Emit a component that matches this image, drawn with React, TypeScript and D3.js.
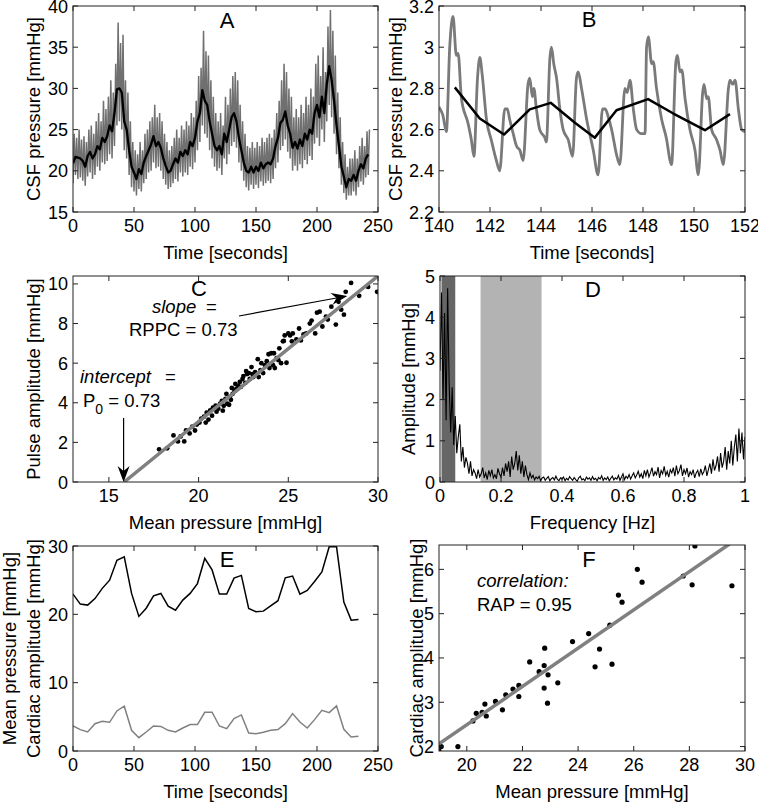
import React from 'react';
import * as d3 from 'd3';

const FONT = '"Liberation Sans", Arial, Helvetica, sans-serif';

// ---------- Panel A: CSF pressure recording ----------
const A_T = [0,2,4,6,8,10,12,14,16,18,20,22,24,26,28,30,32,34,36,38,40,42,44,46,48,50,52,54,56,58,60,62,64,66,68,70,72,74,76,78,80,82,84,86,88,90,92,94,96,98,100,102,104,106,108,110,112,114,116,118,120,122,124,126,128,130,132,134,136,138,140,142,144,146,148,150,152,154,156,158,160,162,164,166,168,170,172,174,176,178,180,182,184,186,188,190,192,194,196,198,200,202,204,206,208,210,212,214,216,218,220,222,224,226,228,230,232,234,236,238,240,242];
const A_MEAN = [20.9,21.7,21.6,21.5,21.2,20.5,21.8,22.3,21.5,22.0,23.0,22.6,24.0,23.5,24.2,25.5,24.8,27.0,29.9,30.0,29.5,26.0,25.0,22.5,20.5,19.8,19.0,20.2,19.6,21.0,21.8,22.5,23.2,24.2,23.0,23.5,22.8,21.5,20.6,19.8,20.0,20.8,21.5,21.0,22.3,21.8,22.5,22.0,23.5,23.0,24.0,26.0,27.0,29.8,28.5,28.0,26.0,24.5,23.0,22.5,23.0,22.0,24.5,23.5,25.0,26.5,27.0,26.0,24.0,22.5,21.0,20.0,19.8,20.5,19.8,20.5,20.0,21.0,20.3,20.8,21.0,20.8,21.5,23.0,24.0,25.8,26.2,27.2,25.5,24.5,22.8,23.5,22.7,23.8,23.0,24.5,23.8,25.0,24.5,27.0,28.0,26.5,29.0,27.0,30.5,32.7,31.0,28.5,25.5,23.0,20.5,19.3,18.0,19.0,18.8,19.5,18.8,20.0,20.8,20.3,21.5,22.0];
const A_HI = [24.5,24.0,25.0,23.8,24.2,23.5,25.0,25.5,24.5,26.0,27.0,26.0,28.5,27.5,29.0,31.0,29.5,33.0,38.0,35.5,36.5,31.0,29.5,26.0,23.5,22.5,22.0,23.5,22.5,24.5,25.0,26.0,26.5,28.0,26.5,27.0,26.0,24.5,23.5,22.5,23.0,24.0,25.0,24.0,25.5,25.0,26.0,25.5,27.0,26.5,28.5,31.5,32.5,37.0,34.5,34.0,31.0,29.0,27.0,26.0,27.0,25.5,29.0,28.0,30.0,31.5,32.0,31.0,28.0,26.0,24.5,23.0,22.8,23.5,22.8,23.5,23.0,24.0,23.5,24.0,24.5,24.0,25.0,27.0,28.5,31.0,33.0,32.0,30.0,29.0,26.5,27.5,26.5,28.0,27.0,29.0,28.0,30.0,29.0,33.0,34.0,31.5,35.0,32.0,37.5,39.5,37.0,34.0,29.5,26.5,23.5,22.0,20.5,21.5,21.5,22.5,21.5,23.0,24.0,23.0,24.8,25.0];
const A_LO = [18.5,19.5,19.0,19.2,18.8,18.2,19.3,19.8,19.0,19.5,20.5,20.0,21.0,20.8,21.2,22.0,21.5,23.0,25.5,26.0,25.0,22.5,21.5,19.5,18.0,17.5,17.0,17.8,17.5,18.5,19.0,19.8,20.0,21.0,20.3,20.5,20.0,19.0,18.3,17.8,18.0,18.5,19.0,18.7,19.8,19.3,19.8,19.5,20.5,20.2,21.0,22.5,23.5,25.5,24.5,24.0,22.5,21.5,20.5,20.0,20.3,19.5,21.5,20.8,22.0,23.0,23.5,22.8,21.0,20.0,18.8,18.0,17.6,18.3,17.8,18.3,17.9,18.7,18.2,18.5,18.8,18.5,19.0,20.3,21.0,22.5,23.0,23.8,22.3,21.5,20.0,20.6,20.0,20.8,20.3,21.3,20.8,21.8,21.3,23.3,24.0,23.0,25.0,23.5,26.0,28.0,26.5,24.5,22.0,20.3,18.3,17.3,16.5,17.0,17.0,17.5,17.0,18.0,18.7,18.3,19.2,19.5];
const A_XTICKS = [0, 50, 100, 150, 200, 250];
const A_YTICKS = [15, 20, 25, 30, 35, 40];

// ---------- Panel B: zoomed pulse waveform ----------
const B_T = [140.00,140.15,140.29,140.42,140.55,140.68,140.75,140.88,141.14,141.27,141.37,141.51,141.60,141.70,141.86,142.05,142.25,142.38,142.58,142.68,142.77,142.91,143.04,143.17,143.30,143.49,143.56,143.66,143.72,143.82,143.95,144.15,144.21,144.35,144.41,144.50,144.61,144.74,144.87,145.07,145.24,145.39,145.46,145.59,145.79,146.05,146.24,146.41,146.52,146.64,146.77,146.96,147.09,147.29,147.38,147.49,147.62,147.75,147.94,148.08,148.14,148.21,148.34,148.40,148.53,148.73,148.93,149.06,149.12,149.29,149.35,149.45,149.52,149.65,149.84,150.04,150.17,150.34,150.39,150.50,150.56,150.69,150.89,151.02,151.15,151.35,151.41,151.52,151.61,151.74,151.87,152.00];
const B_V = [2.71,2.67,2.59,3.00,3.15,2.96,2.97,2.75,2.63,2.55,2.47,2.85,2.95,2.86,2.65,2.55,2.45,2.40,2.70,2.70,2.65,2.58,2.52,2.50,2.45,2.82,2.85,2.76,2.80,2.70,2.60,2.56,2.54,2.95,3.00,2.92,2.85,2.70,2.60,2.55,2.47,2.85,2.88,2.80,2.65,2.50,2.38,2.70,2.70,2.66,2.60,2.48,2.43,2.80,2.78,2.84,2.70,2.60,2.58,2.58,3.00,3.05,2.92,2.93,2.80,2.65,2.55,2.45,2.43,2.93,2.96,2.88,2.89,2.75,2.60,2.50,2.38,2.78,2.82,2.75,2.76,2.60,2.55,2.50,2.43,2.80,2.84,2.82,2.84,2.70,2.60,2.59];
const B_MEAN_T = [140.62,141.60,142.55,143.56,144.38,145.33,146.11,146.96,148.20,149.19,150.43,151.41];
const B_MEAN_V = [2.805,2.654,2.576,2.698,2.730,2.633,2.561,2.694,2.748,2.678,2.597,2.675];
const B_XTICKS = [140, 142, 144, 146, 148, 150, 152];
const B_YTICKS = [2.2, 2.4, 2.6, 2.8, 3.0, 3.2];

// ---------- Panel C: pulse amplitude vs mean pressure ----------
const C_X = [17.8,18.25,18.6,18.85,19.0,19.2,19.3,19.5,19.65,19.8,19.9,20.05,20.15,20.3,20.4,20.45,20.55,20.65,20.75,20.8,20.95,21.0,21.1,21.2,21.3,21.35,21.4,21.5,21.55,21.6,21.7,21.75,21.8,21.85,21.9,22.0,22.05,22.1,22.2,22.3,22.35,22.45,22.5,22.6,22.65,22.7,22.8,22.85,22.95,23.0,23.05,23.15,23.3,23.35,23.45,23.5,23.6,23.7,23.8,23.9,23.95,24.05,24.15,24.2,24.25,24.35,24.45,24.5,24.6,24.7,24.75,24.8,24.9,25.0,25.1,25.2,25.25,25.45,25.6,25.7,25.85,26.0,26.2,26.3,26.5,26.6,26.75,26.9,27.1,27.2,27.4,27.65,27.8,27.95,28.1,28.2,28.5,28.95,29.45,29.95];
const C_Y = [1.65,1.7,2.35,2.05,2.3,2.05,2.6,2.45,2.8,2.6,2.9,3.0,3.2,3.3,3.0,3.5,3.15,3.62,3.35,3.75,3.85,3.55,3.7,3.95,4.1,3.6,3.85,4.2,4.45,3.95,3.9,4.3,4.15,4.75,4.45,4.6,4.95,4.7,4.85,5.05,4.8,5.2,5.35,5.0,5.6,5.45,5.5,5.2,5.8,5.45,5.3,5.55,6.2,5.3,5.65,6.0,5.5,5.9,6.1,6.45,5.75,6.5,5.9,6.5,5.75,6.25,6.15,6.75,6.0,7.1,7.12,7.4,6.02,7.5,7.4,7.1,7.5,7.2,7.75,7.15,7.45,7.5,8.0,8.15,7.5,8.55,8.6,7.85,8.35,8.2,8.85,7.95,9.1,8.7,8.45,9.6,10.05,9.4,9.85,9.6];
const C_FIT_X = [15.85, 30];
const C_FIT_Y = [0, 10.4];
const C_XTICKS = [15, 20, 25, 30];
const C_YTICKS = [0, 2, 4, 6, 8, 10];

// ---------- Panel D: amplitude spectrum ----------
const D_F = [0,0.005,0.01,0.015,0.02,0.025,0.03,0.035,0.04,0.045,0.05,0.055,0.06,0.065,0.07,0.075,0.08,0.085,0.09,0.095,0.1,0.105,0.11,0.115,0.12,0.125,0.13,0.135,0.14,0.145,0.15,0.155,0.16,0.165,0.17,0.175,0.18,0.185,0.19,0.195,0.2,0.205,0.21,0.215,0.22,0.225,0.23,0.235,0.24,0.245,0.25,0.255,0.26,0.265,0.27,0.275,0.28,0.285,0.29,0.295,0.3,0.305,0.31,0.315,0.32,0.325,0.33,0.335,0.34,0.345,0.35,0.355,0.36,0.365,0.37,0.375,0.38,0.385,0.39,0.395,0.4,0.405,0.41,0.415,0.42,0.425,0.43,0.435,0.44,0.445,0.45,0.455,0.46,0.465,0.47,0.475,0.48,0.485,0.49,0.495,0.5,0.505,0.51,0.515,0.52,0.525,0.53,0.535,0.54,0.545,0.55,0.555,0.56,0.565,0.57,0.575,0.58,0.585,0.59,0.595,0.6,0.605,0.61,0.615,0.62,0.625,0.63,0.635,0.64,0.645,0.65,0.655,0.66,0.665,0.67,0.675,0.68,0.685,0.69,0.695,0.7,0.705,0.71,0.715,0.72,0.725,0.73,0.735,0.74,0.745,0.75,0.755,0.76,0.765,0.77,0.775,0.78,0.785,0.79,0.795,0.8,0.805,0.81,0.815,0.82,0.825,0.83,0.835,0.84,0.845,0.85,0.855,0.86,0.865,0.87,0.875,0.88,0.885,0.89,0.895,0.9,0.905,0.91,0.915,0.92,0.925,0.93,0.935,0.94,0.945,0.95,0.955,0.96,0.965,0.97,0.975,0.98,0.985,0.99,0.995,1];
const D_A = [
  2.7,4.6,2.0,4.1,1.5,4.7,2.4,1.2,2.3,0.9,
  1.6,0.7,1.1,1.4,0.5,0.85,0.35,0.6,0.45,0.2,
  0.5,0.15,0.3,0.22,0.08,0.3,0.12,0.2,0.35,0.1,
  0.22,0.06,0.28,0.15,0.3,0.1,0.18,0.08,0.33,0.2,
  0.12,0.35,0.15,0.45,0.25,0.5,0.12,0.62,0.3,0.45,
  0.75,0.28,0.65,0.2,0.5,0.12,0.4,0.18,0.06,0.22,
  0.1,0.16,0.05,0.12,0.08,0.14,0.03,0.1,0.12,0.04,
  0.09,0.13,0.03,0.08,0.11,0.05,0.14,0.06,0.03,0.1,
  0.07,0.12,0.03,0.09,0.05,0.13,0.08,0.04,0.11,0.06,
  0.02,0.1,0.14,0.05,0.08,0.03,0.12,0.07,0.1,0.04,
  0.13,0.06,0.09,0.03,0.11,0.07,0.15,0.04,0.1,0.06,
  0.12,0.03,0.09,0.14,0.05,0.1,0.07,0.16,0.04,0.12,
  0.2,0.06,0.14,0.09,0.18,0.07,0.15,0.22,0.1,0.17,
  0.26,0.12,0.2,0.08,0.28,0.15,0.3,0.12,0.22,0.35,
  0.14,0.25,0.18,0.36,0.1,0.28,0.2,0.38,0.16,0.26,
  0.12,0.3,0.22,0.35,0.14,0.4,0.2,0.28,0.42,0.15,
  0.3,0.2,0.34,0.12,0.25,0.18,0.3,0.1,0.22,0.28,
  0.13,0.32,0.18,0.25,0.4,0.15,0.3,0.45,0.2,0.55,
  0.28,0.4,0.62,0.25,0.7,0.35,0.5,0.85,0.3,0.75,
  0.45,1.0,0.4,0.85,1.15,0.5,1.3,0.7,1.2,0.55,
  1.1];
const D_BAND_FROM = [0.005, 0.133];
const D_BAND_TO = [0.05, 0.333];
const D_XTICKS = [0, 0.2, 0.4, 0.6, 0.8, 1];
const D_YTICKS = [0, 1, 2, 3, 4, 5];

// ---------- Panel E: mean pressure and cardiac amplitude over time ----------
const E_T = [0,6,12,18,24,30,36,42,48,54,60,66,72,78,84,90,96,102,108,114,120,126,132,138,144,150,156,162,168,174,180,186,192,198,204,210,216,222,228,234];
const E_MEAN = [22.96,21.5,21.35,22.3,23.8,25.0,27.9,28.4,23.06,19.7,20.9,22.7,23.06,21.2,20.6,22.08,23.06,24.5,28.2,26.5,22.96,22.96,25.3,25.7,20.86,20.37,20.47,21.25,22.0,25.35,25.6,22.96,23.5,24.8,26.2,29.9,29.9,21.8,19.15,19.25];
const E_AMP = [3.66,3.13,2.78,4.0,4.35,4.2,5.86,6.55,3.03,1.95,2.78,3.66,3.6,3.03,2.78,3.37,3.86,3.86,5.67,5.67,3.66,3.27,4.74,5.28,2.64,2.54,2.74,3.03,3.13,4.0,5.47,4.25,3.37,4.59,5.96,5.62,6.6,3.18,2.05,2.15];
const E_XTICKS = [0, 50, 100, 150, 200, 250];
const E_YTICKS = [0, 10, 20, 30];

// ---------- Panel F: cardiac amplitude vs mean pressure ----------
const F_X = [19.0,19.08,19.68,20.22,20.34,20.55,20.65,20.7,21.03,21.28,21.4,21.66,21.87,21.87,22.26,22.6,22.78,22.8,22.78,22.92,22.9,23.27,23.8,24.38,24.61,24.77,25.14,25.22,25.45,25.58,26.13,26.3,27.78,28.1,28.2,29.53];
const F_Y = [1.9,2.0,2.0,2.58,2.75,2.77,2.96,2.69,3.02,2.83,3.17,3.30,3.38,3.13,3.91,3.69,3.83,4.22,3.32,3.62,2.98,3.44,4.37,4.55,3.8,4.2,4.74,3.86,5.42,5.26,6.0,5.71,5.85,5.65,6.53,5.63];
const F_FIT_X = [19, 29.6];
const F_FIT_Y = [2.06, 6.64];
const F_XTICKS = [20, 22, 24, 26, 28, 30];
const F_YTICKS = [2, 3, 4, 5, 6];

type Box = { x0: number; x1: number; y0: number; y1: number };

const TICK_FS = 18;
const TITLE_FS = 18.5;

function fmt(v: number) {
  return String(+v.toFixed(2));
}

function Axes(props: {
  box: Box;
  xs: d3.ScaleLinear<number, number>;
  ys: d3.ScaleLinear<number, number>;
  xTicks: number[];
  yTicks: number[];
  xTitle: string;
  yTitles: { text: string; x: number }[];
  letter: string;
  letterX: number;
  letterY: number;
}) {
  const { box, xs, ys, xTicks, yTicks, xTitle, yTitles, letter, letterX, letterY } = props;
  const tl = 5;
  const cy = (box.y0 + box.y1) / 2;
  return (
    <g fontFamily={FONT} fill="#000">
      <rect x={box.x0} y={box.y0} width={box.x1 - box.x0} height={box.y1 - box.y0} fill="none" stroke="#222" strokeWidth={1} />
      {xTicks.map((v) => (
        <g key={'x' + v}>
          <line x1={xs(v)} x2={xs(v)} y1={box.y1} y2={box.y1 - tl} stroke="#222" />
          <line x1={xs(v)} x2={xs(v)} y1={box.y0} y2={box.y0 + tl} stroke="#222" />
          <text x={xs(v)} y={box.y1 + 19.5} fontSize={TICK_FS} textAnchor="middle">{fmt(v)}</text>
        </g>
      ))}
      {yTicks.map((v) => (
        <g key={'y' + v}>
          <line x1={box.x0} x2={box.x0 + tl} y1={ys(v)} y2={ys(v)} stroke="#222" />
          <line x1={box.x1} x2={box.x1 - tl} y1={ys(v)} y2={ys(v)} stroke="#222" />
          <text x={box.x0 - 5} y={ys(v) + 6.5} fontSize={TICK_FS} textAnchor="end">{fmt(v)}</text>
        </g>
      ))}
      <text x={(box.x0 + box.x1) / 2} y={box.y1 + 47} fontSize={TITLE_FS} textAnchor="middle">{xTitle}</text>
      {yTitles.map((t) => (
        <text key={t.text} transform={`translate(${t.x},${cy}) rotate(-90)`} fontSize={TITLE_FS} textAnchor="middle">{t.text}</text>
      ))}
      <text x={letterX} y={letterY} fontSize={22} textAnchor="middle">{letter}</text>
    </g>
  );
}

function ClipDef({ id, box }: { id: string; box: Box }) {
  return (
    <clipPath id={id}>
      <rect x={box.x0} y={box.y0} width={box.x1 - box.x0} height={box.y1 - box.y0} />
    </clipPath>
  );
}

function Arrow({ x1, y1, x2, y2 }: { x1: number; y1: number; x2: number; y2: number }) {
  const ang = Math.atan2(y2 - y1, x2 - x1);
  const L = 16, W = 6, N = 11;
  const bx = x2 - L * Math.cos(ang), by = y2 - L * Math.sin(ang);
  const nx = -Math.sin(ang), ny = Math.cos(ang);
  const mx = x2 - N * Math.cos(ang), my = y2 - N * Math.sin(ang);
  const head = `M${x2},${y2} L${bx + W * nx},${by + W * ny} L${mx},${my} L${bx - W * nx},${by - W * ny} Z`;
  return (
    <g>
      <line x1={x1} y1={y1} x2={mx} y2={my} stroke="#000" strokeWidth={1.2} />
      <path d={head} fill="#000" />
    </g>
  );
}

export default function App() {
  const A: Box = { x0: 73, x1: 378, y0: 6, y1: 212 };
  const B: Box = { x0: 439, x1: 745, y0: 6, y1: 212 };
  const C: Box = { x0: 73, x1: 378, y0: 276, y1: 482 };
  const D: Box = { x0: 440, x1: 745, y0: 276, y1: 482 };
  const E: Box = { x0: 73, x1: 378, y0: 546, y1: 751 };
  const F: Box = { x0: 439, x1: 745, y0: 545, y1: 751 };

  const axS = d3.scaleLinear().domain([0, 250]).range([A.x0, A.x1]);
  const ayS = d3.scaleLinear().domain([15, 40]).range([A.y1, A.y0]);
  const bxS = d3.scaleLinear().domain([140, 152]).range([B.x0, B.x1]);
  const byS = d3.scaleLinear().domain([2.2, 3.2]).range([B.y1, B.y0]);
  const cxS = d3.scaleLinear().domain([13, 30]).range([C.x0, C.x1]);
  const cyS = d3.scaleLinear().domain([0, 10.4]).range([C.y1, C.y0]);
  const dxS = d3.scaleLinear().domain([0, 1]).range([D.x0, D.x1]);
  const dyS = d3.scaleLinear().domain([0, 5]).range([D.y1, D.y0]);
  const exS = d3.scaleLinear().domain([0, 250]).range([E.x0, E.x1]);
  const eyS = d3.scaleLinear().domain([0, 30]).range([E.y1, E.y0]);
  const fxS = d3.scaleLinear().domain([19, 30]).range([F.x0, F.x1]);
  const fyS = d3.scaleLinear().domain([1.9, 6.55]).range([F.y1, F.y0]);

  const lineA = d3.line<[number, number]>().x((d) => axS(d[0])).y((d) => ayS(d[1]));
  const aZig: [number, number][] = [];
  A_T.forEach((t, i) => {
    aZig.push([t, A_LO[i]]);
    aZig.push([t + 1, A_HI[i]]);
  });
  const aMean: [number, number][] = A_T.map((t, i) => [t, A_MEAN[i]]);

  const lineB = d3.line<[number, number]>().x((d) => bxS(d[0])).y((d) => byS(d[1])).curve(d3.curveMonotoneX);
  const lineBm = d3.line<[number, number]>().x((d) => bxS(d[0])).y((d) => byS(d[1]));
  const bGray: [number, number][] = B_T.map((t, i) => [t, B_V[i]]);
  const bMean: [number, number][] = B_MEAN_T.map((t, i) => [t, B_MEAN_V[i]]);

  const lineD = d3.line<[number, number]>().x((d) => dxS(d[0])).y((d) => dyS(d[1]));
  const dSpec: [number, number][] = D_F.map((f, i) => [f, D_A[i]]);

  const lineE = d3.line<[number, number]>().x((d) => exS(d[0])).y((d) => eyS(d[1]));
  const eMean: [number, number][] = E_T.map((t, i) => [t, E_MEAN[i]]);
  const eAmp: [number, number][] = E_T.map((t, i) => [t, E_AMP[i]]);

  return (
    <svg width={758} height={804} style={{ position: 'absolute', left: 0, top: 0, background: '#fff' }}>
      <defs>
        <ClipDef id="cA" box={A} />
        <ClipDef id="cB" box={B} />
        <ClipDef id="cC" box={C} />
        <ClipDef id="cD" box={D} />
        <ClipDef id="cE" box={E} />
        <ClipDef id="cF" box={F} />
      </defs>
      <rect x={0} y={0} width={758} height={804} fill="#fff" />

      {/* Panel A */}
      <g clipPath="url(#cA)">
        <path d={lineA(aZig) || ''} fill="none" stroke="#707070" strokeWidth={1.5} />
        <path d={lineA(aMean) || ''} fill="none" stroke="#000" strokeWidth={2.3} strokeLinejoin="round" />
      </g>
      <Axes box={A} xs={axS} ys={ayS} xTicks={A_XTICKS} yTicks={A_YTICKS} xTitle="Time [seconds]"
        yTitles={[{ text: 'CSF pressure [mmHg]', x: 40 }]} letter="A" letterX={227} letterY={28} />

      {/* Panel B */}
      <g clipPath="url(#cB)">
        <path d={lineB(bGray) || ''} fill="none" stroke="#7a7a7a" strokeWidth={2.8} strokeLinejoin="round" />
        <path d={lineBm(bMean) || ''} fill="none" stroke="#000" strokeWidth={2.5} strokeLinejoin="round" />
      </g>
      <Axes box={B} xs={bxS} ys={byS} xTicks={B_XTICKS} yTicks={B_YTICKS} xTitle="Time [seconds]"
        yTitles={[{ text: 'CSF pressure [mmHg]', x: 402 }]} letter="B" letterX={589} letterY={27} />

      {/* Panel C */}
      <g clipPath="url(#cC)">
        {C_X.map((x, i) => (
          <circle key={i} cx={cxS(x)} cy={cyS(C_Y[i])} r={2.4} fill="#000" />
        ))}
        <line x1={cxS(C_FIT_X[0])} y1={cyS(C_FIT_Y[0])} x2={cxS(C_FIT_X[1])} y2={cyS(C_FIT_Y[1])} stroke="#808080" strokeWidth={3.5} />
      </g>
      <Axes box={C} xs={cxS} ys={cyS} xTicks={C_XTICKS} yTicks={C_YTICKS} xTitle="Mean pressure [mmHg]"
        yTitles={[{ text: 'Pulse amplitude [mmHg]', x: 40 }]} letter="C" letterX={199} letterY={296} />
      <g fontFamily={FONT} fontSize={18.5}>
        <text x={152} y={313} fontStyle="italic">slope</text>
        <text x={206} y={313}>=</text>
        <text x={129} y={336}>RPPC = 0.73</text>
        <text x={80} y={383} fontStyle="italic">intercept</text>
        <text x={165} y={383}>=</text>
        <text x={83} y={407}>P<tspan dy={7} fontSize={14}>0</tspan><tspan dy={-7}> = 0.73</tspan></text>
      </g>
      <Arrow x1={239} y1={316} x2={cxS(28.29)} y2={cyS(9.39)} />
      <Arrow x1={cxS(15.82)} y1={418} x2={cxS(15.82)} y2={C.y1} />

      {/* Panel D */}
      <g clipPath="url(#cD)">
        {D_BAND_FROM.map((f, i) => (
          <rect key={i} x={dxS(f)} y={D.y0} width={dxS(D_BAND_TO[i]) - dxS(f)} height={D.y1 - D.y0}
            fill={i === 0 ? '#666666' : '#b3b3b3'} />
        ))}
        <path d={lineD(dSpec) || ''} fill="none" stroke="#000" strokeWidth={1.1} />
      </g>
      <Axes box={D} xs={dxS} ys={dyS} xTicks={D_XTICKS} yTicks={D_YTICKS} xTitle="Frequency [Hz]"
        yTitles={[{ text: 'Amplitude [mmHg]', x: 415 }]} letter="D" letterX={593} letterY={297} />

      {/* Panel E */}
      <g clipPath="url(#cE)">
        <path d={lineE(eMean) || ''} fill="none" stroke="#000" strokeWidth={1.5} />
        <path d={lineE(eAmp) || ''} fill="none" stroke="#808080" strokeWidth={1.5} />
      </g>
      <Axes box={E} xs={exS} ys={eyS} xTicks={E_XTICKS} yTicks={E_YTICKS} xTitle="Time [seconds]"
        yTitles={[{ text: 'Mean pressure [mmHg]', x: 16 }, { text: 'Cardiac amplitude [mmHg]', x: 40 }]}
        letter="E" letterX={227} letterY={567} />

      {/* Panel F */}
      <g clipPath="url(#cF)">
        {F_X.map((x, i) => (
          <circle key={i} cx={fxS(x)} cy={fyS(F_Y[i])} r={2.6} fill="#000" />
        ))}
        <line x1={fxS(F_FIT_X[0])} y1={fyS(F_FIT_Y[0])} x2={fxS(F_FIT_X[1])} y2={fyS(F_FIT_Y[1])} stroke="#808080" strokeWidth={3.5} />
      </g>
      <Axes box={F} xs={fxS} ys={fyS} xTicks={F_XTICKS} yTicks={F_YTICKS} xTitle="Mean pressure [mmHg]"
        yTitles={[{ text: 'Cardiac amplitude [mmHg]', x: 423 }]} letter="F" letterX={589} letterY={567} />
      <g fontFamily={FONT} fontSize={18.5}>
        <text x={477} y={587} fontStyle="italic">correlation:</text>
        <text x={477} y={611}>RAP = 0.95</text>
      </g>
    </svg>
  );
}
